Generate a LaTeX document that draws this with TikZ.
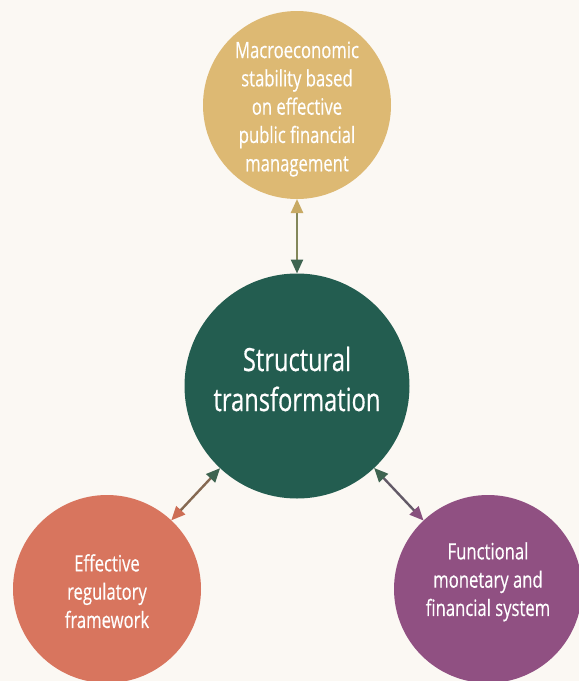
\documentclass[tikz,border=0pt]{standalone}
\usepackage{fontspec}
\setmainfont{Open Sans}[FakeStretch=0.74,FakeBold=0.4]
\usetikzlibrary{arrows.meta}

\definecolor{bgcream}{RGB}{251,248,243}
\definecolor{goldfill}{RGB}{221,185,115}
\definecolor{greenfill}{RGB}{35,93,80}
\definecolor{redfill}{RGB}{216,117,94}
\definecolor{purplefill}{RGB}{144,80,130}
\definecolor{goldtip}{RGB}{200,170,100}
\definecolor{greentip}{RGB}{62,100,80}
\definecolor{redtip}{RGB}{205,110,85}
\definecolor{purpletip}{RGB}{135,80,125}

% lines of a circle's text, moved up by #1
\newcommand{\circtext}[2]{\raisebox{#1}[\height][\depth]{\begin{tabular}{@{}c@{}}#2\end{tabular}}}

\begin{document}
\begin{tikzpicture}[x=1pt,y=-1pt,
    pillar/.style={circle,minimum size=188pt,inner sep=0pt,outer sep=0pt,
        text=white,align=center,font=\fontsize{22.5}{28.3}\selectfont},
    core/.style={pillar,minimum size=225pt,font=\fontsize{32}{40}\selectfont},
    link/.style={line width=2.4pt}]
    % background and bounding box
    \fill[bgcream] (0,0) rectangle (579,681);
    \useasboundingbox (0,0) rectangle (579,681);

    \node[core,fill=greenfill] (st) at (297,386) {\circtext{3pt}{Structural\\transformation}};
    \node[pillar,fill=goldfill] (ms) at (297,105)
        {\circtext{-4pt}{Macroeconomic\\stability based\\on effective\\public financial\\management}};
    \node[pillar,fill=redfill] (rf) at (107,589) {\circtext{-5pt}{Effective\\regulatory\\framework}};
    \node[pillar,fill=purplefill] (fm) at (488,589)
        {\circtext{7pt}{Functional\\monetary and\\financial system}};

    \draw[link,draw=goldtip!50!greentip,
        {Triangle[length=14pt,width=12pt,color=goldtip]}-{Triangle[length=14pt,width=12pt,color=greentip]}]
        (ms) -- (st);
    \draw[link,draw=redtip!50!greentip,
        {Triangle[length=14pt,width=12pt,color=redtip]}-{Triangle[length=14pt,width=12pt,color=greentip]}]
        (rf) -- (st);
    \draw[link,draw=purpletip!50!greentip,
        {Triangle[length=14pt,width=12pt,color=purpletip]}-{Triangle[length=14pt,width=12pt,color=greentip]}]
        (fm) -- (st);
\end{tikzpicture}
\end{document}
